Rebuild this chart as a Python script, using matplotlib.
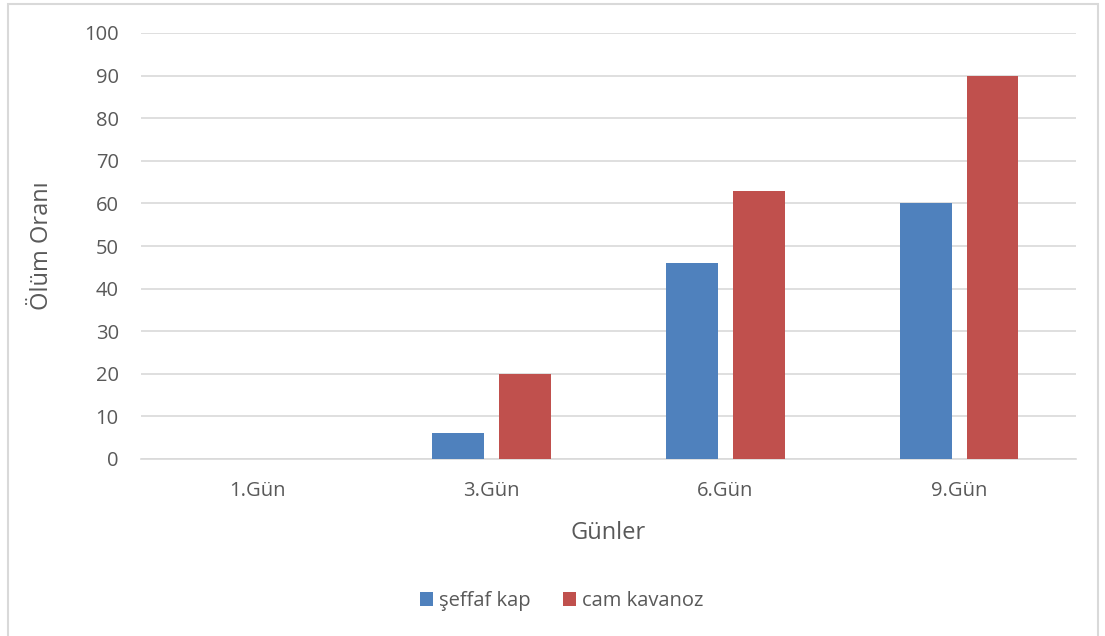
import numpy as np
import matplotlib.pyplot as plt
from matplotlib.patches import Rectangle

# data
gunler = ['1.Gün', '3.Gün', '6.Gün', '9.Gün']
seffaf_kap = [0, 6, 46, 60]
cam_kavanoz = [0, 20, 63, 90]

plt.rcParams['font.family'] = ['Open Sans', 'DejaVu Sans']
text_color = '#595959'
grid_color = '#D9D9D9'

fig = plt.figure(figsize=(11.05, 6.36), dpi=100)
ax = fig.add_axes([141 / 1105, 1 - 459 / 636, (1076 - 141) / 1105, (459 - 33) / 636])

x = np.arange(len(gunler))
bar_w = 0.222
off = 0.143
ax.bar(x - off, seffaf_kap, bar_w, color='#4F81BD', label='şeffaf kap', zorder=3)
ax.bar(x + off, cam_kavanoz, bar_w, color='#C0504D', label='cam kavanoz', zorder=3)

ax.set_xlim(-0.5, len(gunler) - 0.5)
ax.set_ylim(0, 100)
ax.set_yticks(np.arange(0, 101, 10))
ax.set_xticks(x)
ax.set_xticklabels(gunler)
ax.grid(axis='y', color=grid_color, linewidth=1.2, zorder=0)
ax.tick_params(length=0, labelsize=14.5, colors=text_color)
ax.tick_params(axis='y', pad=16)
ax.tick_params(axis='x', pad=16)
for s in ['top', 'right', 'left']:
    ax.spines[s].set_visible(False)
ax.spines['bottom'].set_color(grid_color)
ax.spines['bottom'].set_linewidth(1.2)

ax.set_xlabel('Günler', fontsize=17, color=text_color, labelpad=14)
ax.set_ylabel('Ölüm Oranı', fontsize=17, color=text_color, labelpad=22)

leg = fig.legend(loc='center', bbox_to_anchor=(562 / 1105, 1 - 601 / 636), ncol=2,
                 frameon=False, fontsize=14.5, handlelength=0.65, handleheight=0.65,
                 handletextpad=0.3, columnspacing=1.6)
for t in leg.get_texts():
    t.set_color(text_color)

# chart border
fig.patches.append(Rectangle((8 / 1105, -0.01), (1098 - 8) / 1105, 1 - 4 / 636 + 0.01,
                             transform=fig.transFigure, fill=False,
                             edgecolor='#D9D9D9', linewidth=1.5))

fig.savefig('out.png', dpi=100)
